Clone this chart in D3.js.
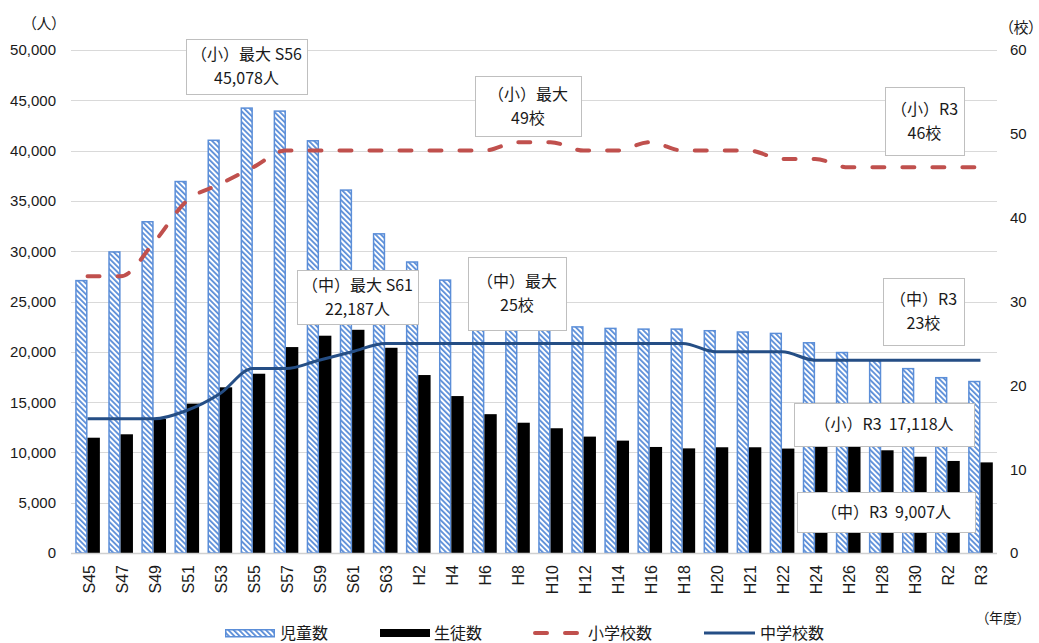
<!DOCTYPE html>
<html>
<head>
<meta charset="utf-8">
<script src="https://cdn.jsdelivr.net/npm/d3@7"></script>
<style>
  body { margin: 0; background: #fff; }
  svg { display: block; font-family: "Liberation Sans", Arial, "Noto Sans CJK JP", sans-serif; }
  .jp { font-family: "Noto Sans CJK JP", sans-serif; }
  .unit { font-family: "Noto Sans CJK JP", sans-serif; font-feature-settings: "palt"; }
</style>
</head>
<body>
<svg id="chart" width="1039" height="643"></svg>
<script>
// 年度
const categories = ["S45","S47","S49","S51","S53","S55","S57","S59","S61","S63",
  "H2","H4","H6","H8","H10","H12","H14","H16","H18","H20","H21","H22",
  "H24","H26","H28","H30","R2","R3"];

// 児童数（人）
const pupils = [27150, 30000, 33000, 37000, 41100, 44300, 44000, 41050, 36150, 31800,
  29000, 27200, 22400, 22300, 22500, 22550, 22400, 22330, 22330, 22170, 22040, 21900,
  20970, 20000, 19200, 18400, 17500, 17118];

// 生徒数（人）
const students = [11460, 11800, 13320, 14850, 16470, 17820, 20470, 21600, 22187, 20400,
  17690, 15600, 13800, 12950, 12400, 11570, 11170, 10540, 10400, 10510, 10510, 10380,
  10600, 10600, 10210, 9570, 9150, 9007];

// 小学校数（校）
const elemSchools = [33, 33, 37, 42, 44, 46, 48, 48, 48, 48,
  48, 48, 48, 49, 49, 48, 48, 49, 48, 48, 48, 47,
  47, 46, 46, 46, 46, 46];

// 中学校数（校）
const juniorSchools = [16, 16, 16, 17, 19, 22, 22, 23, 24, 25,
  25, 25, 25, 25, 25, 25, 25, 25, 25, 24, 24, 24,
  23, 23, 23, 23, 23, 23];

const leftTicks = [0, 5000, 10000, 15000, 20000, 25000, 30000, 35000, 40000, 45000, 50000];
const rightTicks = [0, 10, 20, 30, 40, 50, 60];

const legendLabels = ["児童数", "生徒数", "小学校数", "中学校数"];

const calloutText = [
  ["（小）最大 S56", "45,078人"],
  ["（中）最大 S61", "22,187人"],
  ["（中）最大", "25校"],
  ["（小）最大", "49校"],
  ["（小）R3", "46校"],
  ["（中）R3", "23校"],
  ["（小）R3  17,118人"],
  ["（中）R3  9,007人"]
];

// callout frames: [left, top, right, bottom]
const calloutFrames = [
  [186, 39, 307, 94],
  [297, 270, 418, 324],
  [468, 257, 566, 330],
  [475, 76, 581, 136],
  [885, 87, 964, 155],
  [883, 278, 964, 345],
  [794, 403, 974, 446],
  [797, 492, 975, 532]
];

const plot = { left: 71, right: 997, top: 50, bottom: 553 };
const BLUE_EDGE = "#5b8ed8";
const RED = "#c0504d";
const NAVY = "#254e85";
const GRID = "#d9d9d9";

const svg = d3.select("#chart");

// hatch fill for 児童数
const defs = svg.append("defs");
const pat = defs.append("pattern")
  .attr("id", "hatch")
  .attr("patternUnits", "userSpaceOnUse")
  .attr("width", 3.8).attr("height", 3.8)
  .attr("patternTransform", "rotate(-45)");
pat.append("rect").attr("width", 3.8).attr("height", 3.8).attr("fill", "#fff");
pat.append("rect").attr("width", 1.8).attr("height", 3.8).attr("fill", BLUE_EDGE);

const x = d3.scaleBand().domain(categories).range([plot.left, plot.right]);
const xs = d3.scaleBand().domain(["pupils", "students"])
  .range([0, x.bandwidth()]).paddingInner(0).paddingOuter(0.34);
const yL = d3.scaleLinear().domain([0, 50000]).range([plot.bottom, plot.top]);
const yR = d3.scaleLinear().domain([0, 60]).range([plot.bottom, plot.top]);

// gridlines
svg.append("g").selectAll("line")
  .data(leftTicks.filter(d => d > 0))
  .join("line")
  .attr("x1", plot.left).attr("x2", plot.right)
  .attr("y1", d => Math.round(yL(d)) + 0.5).attr("y2", d => Math.round(yL(d)) + 0.5)
  .attr("stroke", GRID).attr("stroke-width", 1);

// bars
const cx = c => x(c) + x.bandwidth() / 2;
svg.append("g").selectAll("rect")
  .data(categories.map((c, i) => ({ c, v: pupils[i] })))
  .join("rect")
  .attr("x", d => x(d.c) + xs("pupils") + 0.75)
  .attr("y", d => yL(d.v) + 0.75)
  .attr("width", xs.bandwidth() - 1.5)
  .attr("height", d => plot.bottom - yL(d.v) - 0.75)
  .attr("fill", "url(#hatch)")
  .attr("stroke", BLUE_EDGE).attr("stroke-width", 1.5);

svg.append("g").selectAll("rect")
  .data(categories.map((c, i) => ({ c, v: students[i] })))
  .join("rect")
  .attr("x", d => x(d.c) + xs("students"))
  .attr("y", d => yL(d.v))
  .attr("width", xs.bandwidth())
  .attr("height", d => plot.bottom - yL(d.v))
  .attr("fill", "#000");

// baseline
svg.append("line")
  .attr("x1", plot.left).attr("x2", plot.right)
  .attr("y1", plot.bottom + 0.5).attr("y2", plot.bottom + 0.5)
  .attr("stroke", "#d0d0d0").attr("stroke-width", 1.5);

// school-count lines (smoothed)
const line = d3.line()
  .x(d => cx(d.c)).y(d => yR(d.v))
  .curve(d3.curveMonotoneX);

svg.append("path")
  .datum(categories.map((c, i) => ({ c, v: elemSchools[i] })))
  .attr("d", line)
  .attr("fill", "none").attr("stroke", RED).attr("stroke-width", 4)
  .attr("stroke-dasharray", "12,18").attr("stroke-linecap", "round");

svg.append("path")
  .datum(categories.map((c, i) => ({ c, v: juniorSchools[i] })))
  .attr("d", line)
  .attr("fill", "none").attr("stroke", NAVY).attr("stroke-width", 3);

// callouts
const cg = svg.append("g").attr("class", "jp");
calloutText.forEach((lines, i) => {
  const [x0, y0, x1, y1] = calloutFrames[i];
  cg.append("rect")
    .attr("x", x0 + 0.5).attr("y", y0 + 0.5)
    .attr("width", x1 - x0).attr("height", y1 - y0)
    .attr("fill", "#fff").attr("stroke", "#bfbfbf").attr("stroke-width", 1);
  const mid = (y0 + y1) / 2;
  const n = lines.length;
  lines.forEach((t, j) => {
    cg.append("text")
      .attr("x", (x0 + x1) / 2)
      .attr("y", mid + (j - (n - 1) / 2) * 24)
      .attr("dy", "0.36em")
      .attr("text-anchor", "middle")
      .attr("font-size", 16)
      .attr("fill", "#1a1a1a")
      .style("white-space", "pre")
      .text(t);
  });
});

// left axis labels
svg.append("g").selectAll("text")
  .data(leftTicks)
  .join("text")
  .attr("x", 56).attr("y", d => yL(d)).attr("dy", "0.36em")
  .attr("text-anchor", "end").attr("font-size", 15).attr("fill", "#1a1a1a")
  .text(d => d3.format(",")(d));

// right axis labels
svg.append("g").selectAll("text")
  .data(rightTicks)
  .join("text")
  .attr("x", 1010).attr("y", d => yR(d)).attr("dy", "0.36em")
  .attr("text-anchor", "start").attr("font-size", 15).attr("fill", "#1a1a1a")
  .text(d => d);

// category labels (rotated)
svg.append("g").selectAll("text")
  .data(categories)
  .join("text")
  .attr("transform", c => `translate(${cx(c) + 7},565) rotate(-90)`)
  .attr("text-anchor", "end").attr("font-size", 16).attr("fill", "#1a1a1a")
  .text(c => c);

// unit labels
svg.append("text").attr("class", "unit")
  .attr("x", 44).attr("y", 24).attr("dy", "0.36em")
  .attr("text-anchor", "middle").attr("font-size", 15).attr("fill", "#1a1a1a")
  .text("（人）");
svg.append("text").attr("class", "unit")
  .attr("x", 1021).attr("y", 28).attr("dy", "0.36em")
  .attr("text-anchor", "middle").attr("font-size", 15).attr("fill", "#1a1a1a")
  .text("（校）");
svg.append("text").attr("class", "unit")
  .attr("x", 1003).attr("y", 618).attr("dy", "0.36em")
  .attr("text-anchor", "middle").attr("font-size", 14).attr("fill", "#1a1a1a")
  .text("（年度）");

// legend
const lg = svg.append("g").attr("class", "jp");
const ly = 633;
lg.append("rect").attr("x", 225.75).attr("y", ly - 3.25).attr("width", 48.5).attr("height", 7)
  .attr("fill", "url(#hatch)").attr("stroke", BLUE_EDGE).attr("stroke-width", 1.5);
lg.append("rect").attr("x", 380).attr("y", ly - 4).attr("width", 50).attr("height", 8)
  .attr("fill", "#000");
lg.append("line").attr("x1", 535).attr("x2", 577).attr("y1", ly).attr("y2", ly)
  .attr("stroke", RED).attr("stroke-width", 4)
  .attr("stroke-dasharray", "12,18").attr("stroke-linecap", "round");
lg.append("line").attr("x1", 704).attr("x2", 755).attr("y1", ly).attr("y2", ly)
  .attr("stroke", NAVY).attr("stroke-width", 3);
const lx = [280, 434, 588, 760];
lg.selectAll("text.lab")
  .data(legendLabels)
  .join("text")
  .attr("class", "lab")
  .attr("x", (d, i) => lx[i]).attr("y", ly).attr("dy", "0.36em")
  .attr("font-size", 16).attr("fill", "#1a1a1a")
  .text(d => d);
</script>
</body>
</html>
